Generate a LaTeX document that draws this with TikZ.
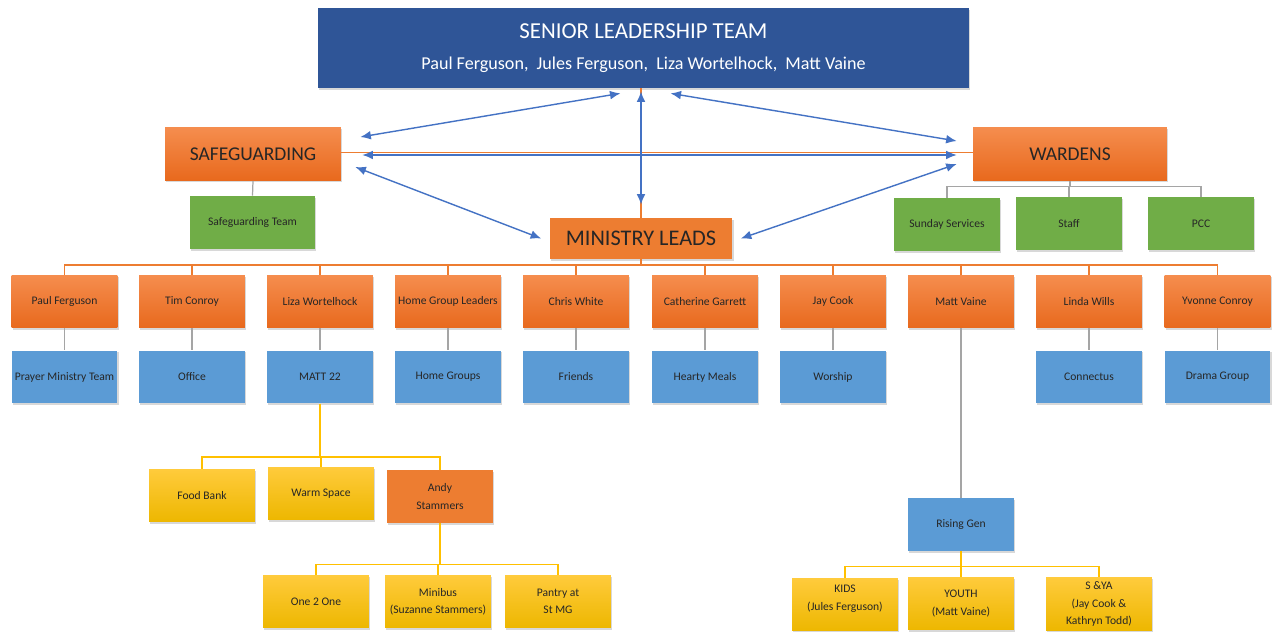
\documentclass[tikz,border=0pt]{standalone}
\usepackage{fontspec}
\setmainfont{Carlito}
\usetikzlibrary{arrows.meta,shadows}

\definecolor{sltblue}{HTML}{2F5597}
\definecolor{arrowblue}{HTML}{4472C4}
\definecolor{orangeMain}{HTML}{ED7D31}
\definecolor{orangeTop}{HTML}{F58D4E}
\definecolor{orangeBot}{HTML}{E8691D}
\definecolor{teamBlue}{HTML}{5B9BD5}
\definecolor{teamGreen}{HTML}{70AD47}
\definecolor{yellowTop}{HTML}{FFCB3C}
\definecolor{yellowBot}{HTML}{EDB700}
\definecolor{yellowLine}{HTML}{FFC000}
\definecolor{greyLine}{HTML}{A5A5A5}

\begin{document}
\begin{tikzpicture}[x=0.02cm, y=-0.02cm,
    box/.style={inner sep=1pt, align=center, text=black!85,
        font=\fontsize{6.6}{9.8}\selectfont,
        minimum width=2.12cm, minimum height=1.06cm,
        drop shadow={shadow xshift=0.7pt, shadow yshift=-0.9pt, opacity=0.3}},
    leadbox/.style={box, top color=orangeTop, bottom color=orangeBot},
    teambox/.style={box, fill=teamBlue},
    greenbox/.style={box, fill=teamGreen},
    yellowbox/.style={box, top color=yellowTop, bottom color=yellowBot},
    bigbox/.style={leadbox, minimum height=1.06cm,
        font=\fontsize{11.1}{13}\selectfont},
    link/.style={arrowblue, line width=0.8pt,
        {Latex[length=6pt,width=5pt]}-{Latex[length=6pt,width=5pt]}},
    orangeline/.style={orangeMain, line width=0.8pt},
    greyline/.style={greyLine, line width=0.7pt},
    yellowline/.style={yellowLine, line width=0.9pt}]

    % Canvas
    \fill[white] (0,0) rectangle (1279,632);
    \useasboundingbox (0,0) rectangle (1279,632);

    % Top level
    \node[box, fill=sltblue, text=white, minimum width=13.02cm, minimum height=1.6cm,
        font=\fontsize{10.3}{12}\selectfont] (slt) at (643.5,48)
        {{\fontsize{13}{15}\selectfont SENIOR LEADERSHIP TEAM}\\[6pt]
         Paul Ferguson,\ \ Jules Ferguson,\ \ Liza Wortelhock,\ \ Matt Vaine};
    \node[bigbox, minimum width=3.52cm] (sg) at (253,154) {SAFEGUARDING};
    \node[bigbox, minimum width=3.88cm] (wd) at (1070,154) {WARDENS};
    \node[box, fill=orangeMain, minimum width=3.66cm, minimum height=0.82cm,
        font=\fontsize{12.7}{15}\selectfont] (ml) at (641,238.5) {MINISTRY LEADS};

    % Safeguarding and wardens teams
    \node[greenbox, minimum width=2.5cm] (sgt) at (252.5,222.5) {Safeguarding Team};
    \node[greenbox] (ss) at (947,224.5) {Sunday Services};
    \node[greenbox] (staff) at (1069,223.5) {Staff};
    \node[greenbox] (pcc) at (1201,223.5) {PCC};
    \draw[greyline] (sg.south) -- (sgt.north);
    \draw[greyline] (wd.south) -- ++(0,6) -| (ss.north);
    \draw[greyline] (wd.south) -- ++(0,6) -| (staff.north);
    \draw[greyline] (wd.south) -- ++(0,6) -| (pcc.north);

    % Links between the teams
    \draw[orangeline] ([shift={(-2.5,0)}]slt.south) -- (ml.north);
    \draw[orangeline] ([shift={(0,-1.5)}]sg.east) -- ([shift={(0,-1.5)}]wd.west);
    \draw[link] ([shift={(-2.5,3)}]slt.south) -- ([shift={(0,-13)}]ml.north);
    \draw[link] ([shift={(21,1)}]sg.east) -- ([shift={(-16,1)}]wd.west);
    \draw[link] ([shift={(-23,5)}]slt.south) -- ([shift={(19,-17)}]sg.east);
    \draw[link] ([shift={(27,5)}]slt.south) -- ([shift={(-16,-13)}]wd.west);
    \draw[link] ([shift={(14,13)}]sg.east) -- ([shift={(-8,0)}]ml.west);
    \draw[link] ([shift={(8,0)}]ml.east) -- ([shift={(-16,10)}]wd.west);

    % Ministry leads
    \node[leadbox] (pf) at (64.5,301.5) {Paul Ferguson};
    \node[leadbox] (tc) at (192,301.5) {Tim Conroy};
    \node[leadbox] (lw) at (320,301.5) {Liza Wortelhock};
    \node[leadbox] (hgl) at (448,301.5) {Home Group Leaders};
    \node[leadbox] (cw) at (576,301.5) {Chris White};
    \node[leadbox] (cg) at (705,301.5) {Catherine Garrett};
    \node[leadbox] (jc) at (833,301.5) {Jay Cook};
    \node[leadbox] (mv) at (961,301.5) {Matt Vaine};
    \node[leadbox] (lwi) at (1089,301.5) {Linda Wills};
    \node[leadbox] (yc) at (1217.5,301.5) {Yvonne Conroy};
    \draw[orangeline] (ml.south) -- ++(0,5.5) -| (pf.north);
    \draw[orangeline] (ml.south) -- ++(0,5.5) -| (tc.north);
    \draw[orangeline] (ml.south) -- ++(0,5.5) -| (lw.north);
    \draw[orangeline] (ml.south) -- ++(0,5.5) -| (hgl.north);
    \draw[orangeline] (ml.south) -- ++(0,5.5) -| (cw.north);
    \draw[orangeline] (ml.south) -- ++(0,5.5) -| (cg.north);
    \draw[orangeline] (ml.south) -- ++(0,5.5) -| (jc.north);
    \draw[orangeline] (ml.south) -- ++(0,5.5) -| (mv.north);
    \draw[orangeline] (ml.south) -- ++(0,5.5) -| (lwi.north);
    \draw[orangeline] (ml.south) -- ++(0,5.5) -| (yc.north);

    % Ministries
    \node[teambox] (pmt) at (64.5,377) {Prayer Ministry Team};
    \node[teambox] (off) at (192,377) {Office};
    \node[teambox] (m22) at (320,377) {MATT 22};
    \node[teambox] (hg) at (448,377) {Home Groups};
    \node[teambox] (fr) at (576,377) {Friends};
    \node[teambox] (hm) at (705,377) {Hearty Meals};
    \node[teambox] (wor) at (833,377) {Worship};
    \node[teambox] (con) at (1089,377) {Connectus};
    \node[teambox] (dg) at (1217.5,377) {Drama Group};
    \draw[greyline] (pf) -- (pmt);
    \draw[greyline] (tc) -- (off);
    \draw[greyline] (lw) -- (m22);
    \draw[greyline] (hgl) -- (hg);
    \draw[greyline] (cw) -- (fr);
    \draw[greyline] (cg) -- (hm);
    \draw[greyline] (jc) -- (wor);
    \draw[greyline] (lwi) -- (con);
    \draw[greyline] (yc) -- (dg);

    % MATT 22 branch
    \node[yellowbox] (fb) at (202,495.5) {Food Bank};
    \node[yellowbox] (ws) at (321,493.5) {Warm Space};
    \node[box, fill=orangeMain] (as) at (440,496.5) {Andy\\Stammers};
    \draw[yellowline] (m22.south) -- ++(0,53) -| (fb.north);
    \draw[yellowline] (m22.south) -- ++(0,53) -| (ws.north);
    \draw[yellowline] (m22.south) -- ++(0,53) -| (as.north);
    \node[yellowbox] (o2o) at (316,601.5) {One 2 One};
    \node[yellowbox] (mb) at (438,601.5) {Minibus\\(Suzanne Stammers)};
    \node[yellowbox] (pan) at (558,601.5) {Pantry at\\St MG};
    \draw[yellowline] (as.south) -- ++(0,41) -| (o2o.north);
    \draw[yellowline] (as.south) -- ++(0,41) -| (mb.north);
    \draw[yellowline] (as.south) -- ++(0,41) -| (pan.north);

    % Rising Gen branch
    \node[teambox] (rg) at (961,524.5) {Rising Gen};
    \draw[greyline] (mv) -- (rg);
    \node[yellowbox] (kids) at (845,604.5) {KIDS\\(Jules Ferguson)\\[-2pt]\mbox{}};
    \node[yellowbox] (yth) at (961,603.5) {YOUTH\\(Matt Vaine)};
    \node[yellowbox] (sya) at (1099,604) {S \&YA\\(Jay Cook \&\\Kathryn Todd)};
    \draw[yellowline] (rg.south) -- ++(0,15) -| (kids.north);
    \draw[yellowline] (rg.south) -- ++(0,15) -| (yth.north);
    \draw[yellowline] (rg.south) -- ++(0,15) -| (sya.north);

\end{tikzpicture}
\end{document}
